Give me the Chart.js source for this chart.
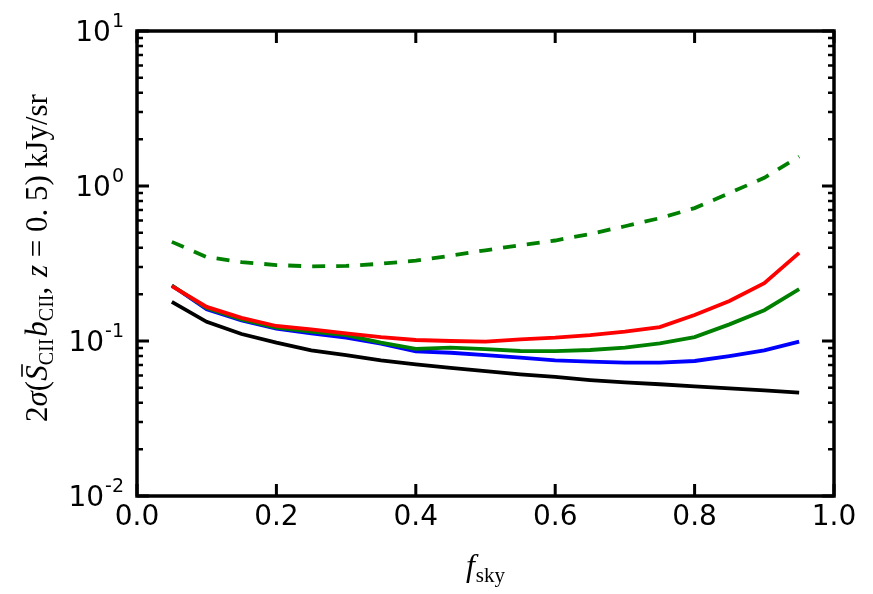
<!DOCTYPE html>
<html>
<head>
<meta charset="utf-8">
<script src="https://cdn.jsdelivr.net/npm/chart.js@4"></script>
<style>
  html, body { margin: 0; padding: 0; background: #fff; }
  #wrap { width: 873px; height: 594px; }
</style>
</head>
<body>
<div id="wrap"><canvas id="chart-fsky" width="873" height="594"></canvas></div>
<script>
// f_sky grid
const fsky = [0.05, 0.10, 0.15, 0.20, 0.25, 0.30, 0.35, 0.40, 0.45, 0.50,
              0.55, 0.60, 0.65, 0.70, 0.75, 0.80, 0.85, 0.90, 0.95];

// 2 sigma values, kJy/sr
const sigmaBlack = [0.179, 0.133, 0.111, 0.0975, 0.087, 0.081, 0.075, 0.0707, 0.067, 0.064,
                    0.061, 0.0586, 0.056, 0.054, 0.0526, 0.051, 0.0495, 0.048, 0.0464];
const sigmaBlue = [0.228, 0.16, 0.136, 0.12, 0.112, 0.105, 0.096, 0.0858, 0.084, 0.081,
                   0.078, 0.075, 0.0735, 0.0725, 0.0725, 0.0743, 0.08, 0.087, 0.099];
const sigmaGreen = [0.228, 0.163, 0.138, 0.122, 0.115, 0.109, 0.0975, 0.089, 0.0905, 0.0885,
                    0.0862, 0.086, 0.0875, 0.0905, 0.0966, 0.106, 0.128, 0.158, 0.216];
const sigmaRed = [0.226, 0.166, 0.141, 0.125, 0.119, 0.112, 0.106, 0.1015, 0.1, 0.099,
                  0.1025, 0.105, 0.109, 0.115, 0.123, 0.147, 0.181, 0.236, 0.37];
const sigmaGreenDashed = [0.436, 0.348, 0.323, 0.309, 0.303, 0.305, 0.315, 0.33, 0.355, 0.385,
                          0.415, 0.445, 0.49, 0.55, 0.62, 0.72, 0.9, 1.13, 1.55];

// axis ticks
const xTicks = [0.0, 0.2, 0.4, 0.6, 0.8, 1.0];
const yExponents = [-2, -1, 0, 1];

let toPoints = function (ys) {
  return fsky.map(function (x, i) { return { x: x, y: ys[i] }; });
};

let line = function (ys, color, order, dash) {
  return {
    data: toPoints(ys),
    borderColor: color,
    borderWidth: 3.8,
    borderDash: dash || [],
    pointRadius: 0,
    tension: 0,
    order: order,
    borderCapStyle: "butt",
    borderJoinStyle: "miter",
  };
};

// draws rich text runs left to right starting at x
let drawRuns = function (ctx, runs, x, y) {
  runs.forEach(function (r) {
    ctx.font = r.font;
    ctx.fillText(r.t, x, y + (r.dy || 0));
    let w = ctx.measureText(r.t).width;
    if (r.bar) {
      ctx.save();
      ctx.lineWidth = 1.6;
      ctx.beginPath();
      ctx.moveTo(x + 4, y - 25);
      ctx.lineTo(x + w + 1, y - 25);
      ctx.stroke();
      ctx.restore();
    }
    x += w + (r.after || 0);
  });
  return x;
};

let runsWidth = function (ctx, runs) {
  let w = 0;
  runs.forEach(function (r) {
    ctx.font = r.font;
    w += ctx.measureText(r.t).width + (r.after || 0);
  });
  return w;
};

let framePlugin = {
  id: "frame",
  afterDatasetsDraw: function (chart) {
    let ctx = chart.ctx;
    let a = chart.chartArea;
    let xs = chart.scales.x;
    let ys = chart.scales.y;
    ctx.save();
    ctx.strokeStyle = "#000";
    ctx.fillStyle = "#000";

    // ticks, pointing inward
    ctx.lineWidth = 3;
    ctx.beginPath();
    xTicks.forEach(function (v) {
      let px = xs.getPixelForValue(v);
      ctx.moveTo(px, a.bottom); ctx.lineTo(px, a.bottom - 12);
      ctx.moveTo(px, a.top); ctx.lineTo(px, a.top + 12);
    });
    yExponents.forEach(function (e) {
      let py = ys.getPixelForValue(Math.pow(10, e));
      ctx.moveTo(a.left, py); ctx.lineTo(a.left + 12, py);
      ctx.moveTo(a.right, py); ctx.lineTo(a.right - 12, py);
    });
    ctx.stroke();
    ctx.lineWidth = 2.5;
    ctx.beginPath();
    yExponents.slice(0, -1).forEach(function (e) {
      for (let m = 2; m <= 9; m++) {
        let py = ys.getPixelForValue(m * Math.pow(10, e));
        ctx.moveTo(a.left, py); ctx.lineTo(a.left + 6, py);
        ctx.moveTo(a.right, py); ctx.lineTo(a.right - 6, py);
      }
    });
    ctx.stroke();

    // frame
    ctx.lineWidth = 3.5;
    ctx.strokeRect(a.left, a.top, a.right - a.left, a.bottom - a.top);

    // x tick labels
    ctx.font = "28px 'DejaVu Sans'";
    ctx.textAlign = "center";
    ctx.textBaseline = "middle";
    xTicks.forEach(function (v) {
      ctx.fillText(v.toFixed(1), xs.getPixelForValue(v), a.bottom + 22);
    });

    // y tick labels, 10^e
    ctx.textAlign = "left";
    ctx.textBaseline = "alphabetic";
    yExponents.forEach(function (e) {
      let py = ys.getPixelForValue(Math.pow(10, e));
      let sup = e < 0 ? "-" + Math.abs(e) : String(e);
      ctx.font = "19px 'DejaVu Sans'";
      let ws = ctx.measureText(sup).width;
      ctx.font = "28px 'DejaVu Sans'";
      let wb = ctx.measureText("10").width;
      let right = a.left - 13;
      ctx.fillText("10", right - ws - wb - 1, py + 10);
      ctx.font = "19px 'DejaVu Sans'";
      ctx.fillText(sup, right - ws, py - 4);
    });

    // x axis title
    let serif = "'Liberation Serif'";
    let xRuns = [
      { t: "f", font: "italic 32px " + serif, after: 1 },
      { t: "sky", font: "21px " + serif, dy: 6 },
    ];
    let xw = runsWidth(ctx, xRuns);
    drawRuns(ctx, xRuns, (a.left + a.right) / 2 - xw / 2, 576);

    // y axis title, rotated
    let yRuns = [
      { t: "2", font: "31px " + serif },
      { t: "σ", font: "italic 31px " + serif },
      { t: "(", font: "31px " + serif },
      { t: "S", font: "italic 31px " + serif, bar: true },
      { t: "CII", font: "20px " + serif, dy: 6, after: 2 },
      { t: "b", font: "italic 31px " + serif },
      { t: "CII", font: "20px " + serif, dy: 6 },
      { t: ", ", font: "31px " + serif, after: 2 },
      { t: "z", font: "italic 31px " + serif },
      { t: " = 0. 5)", font: "31px " + serif, after: 7 },
      { t: "kJy/sr", font: "31px " + serif },
    ];
    let yw = runsWidth(ctx, yRuns);
    ctx.translate(47, 258);
    ctx.rotate(-Math.PI / 2);
    drawRuns(ctx, yRuns, -yw / 2, 0);
    ctx.restore();
  },
};

window.onload = function () {
  let ctx = document.getElementById("chart-fsky").getContext("2d");
  new Chart(ctx, {
    type: "line",
    data: {
      datasets: [
        line(sigmaRed, "#ff0000", 0),
        line(sigmaGreen, "#008000", 1),
        line(sigmaBlue, "#0000ff", 2),
        line(sigmaBlack, "#000000", 3),
        line(sigmaGreenDashed, "#008000", 1, [13, 11]),
      ],
    },
    options: {
      responsive: false,
      animation: false,
      layout: { padding: { left: 137, top: 31, right: 39, bottom: 98 } },
      plugins: {
        legend: { display: false },
        tooltip: { enabled: false },
      },
      scales: {
        x: { type: "linear", min: 0, max: 1, display: false },
        y: { type: "logarithmic", min: 0.01, max: 10, display: false },
      },
    },
    plugins: [framePlugin],
  });
};
</script>
</body>
</html>
